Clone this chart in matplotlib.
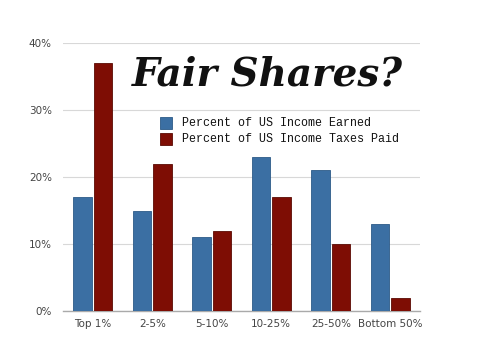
import matplotlib
matplotlib.use("Agg")
import matplotlib.pyplot as plt
import numpy as np
from matplotlib.patches import Rectangle

categories = ["Top 1%", "2-5%", "5-10%", "10-25%", "25-50%", "Bottom 50%"]
income_earned = [17, 15, 11, 23, 21, 13]
taxes_paid = [37, 22, 12, 17, 10, 2]
yticks = [0, 10, 20, 30, 40]

BLUE, RED = "#3b6fa3", "#7e0d04"

fig = plt.figure(figsize=(4.8, 3.61), dpi=100)
ax = fig.add_axes([63 / 480, 1 - 311 / 361, 357 / 480, 268 / 361])

x = np.arange(len(categories))
w = 0.31
ax.bar(x - w / 2 - 0.02, income_earned, w, color=BLUE, edgecolor="#2c5a88", lw=0.6, zorder=3)
ax.bar(x + w / 2 + 0.02, taxes_paid, w, color=RED, edgecolor="#5a0a03", lw=0.6, zorder=3)

ax.set_xlim(-0.5, len(categories) - 0.5)
ax.set_ylim(0, 40)
ax.set_yticks(yticks)
ax.set_yticklabels([f"{v}%" for v in yticks])
ax.set_xticks(x)
ax.set_xticklabels(categories)
ax.grid(axis="y", color="#d8d8d8", lw=0.8, zorder=0)
for s in ["top", "right", "left"]:
    ax.spines[s].set_visible(False)
ax.spines["bottom"].set_color("#aaaaaa")
ax.spines["bottom"].set_linewidth(1.0)
ax.tick_params(length=0, labelsize=7.5, labelcolor="#444444", pad=6)
ax.tick_params(axis="y", pad=8)

fig.text(267 / 480, 1 - 74 / 361, "Fair Shares?", ha="center", va="center",
         fontsize=28, fontweight="bold", fontstyle="italic", family="DejaVu Serif",
         color="#111111")

# legend
for i, (lab, c, ec) in enumerate([("Percent of US Income Earned", BLUE, "#2c5a88"),
                                   ("Percent of US Income Taxes Paid", RED, "#5a0a03")]):
    yc = 123 + i * 16
    fig.patches.append(Rectangle((160 / 480, 1 - (yc + 6) / 361), 12 / 480, 12 / 361,
                                 transform=fig.transFigure, fc=c, ec=ec, lw=0.6))
    fig.text(182 / 480, 1 - yc / 361, lab, ha="left", va="center", fontsize=8.4,
             family="Liberation Mono", color="#111111")

fig.savefig("out.png", dpi=100, facecolor="white")
